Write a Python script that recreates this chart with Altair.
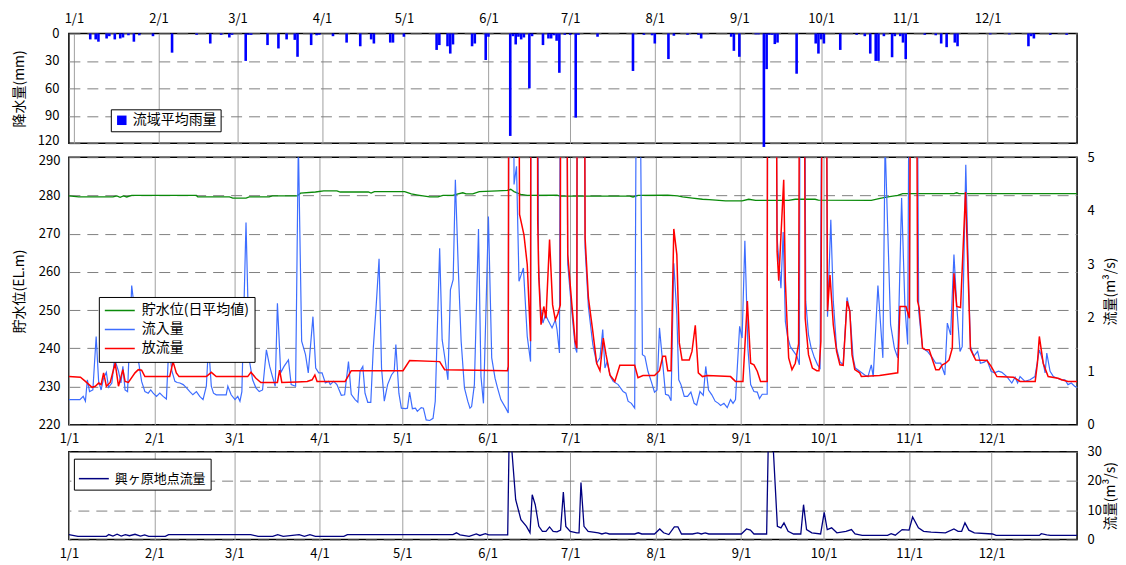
import altair as alt
import pandas as pd

FONT = "Noto Sans CJK JP"

# ---- x axis: day of year (leap year), month starts ----
month_days = [0, 31, 60, 91, 121, 152, 182, 213, 244, 274, 305, 335]
month_labels = ["1/1", "2/1", "3/1", "4/1", "5/1", "6/1", "7/1", "8/1", "9/1", "10/1", "11/1", "12/1"]

# ---- basin average rainfall (mm) ----
rain_day = [6, 8, 9, 12, 13, 15, 17, 18, 20, 22, 24, 29, 36, 45, 50, 54, 57, 58, 63, 64, 65,
            71, 75, 78, 81, 82, 87, 89, 90, 95, 100, 105, 109, 110, 116, 117, 121,
            133, 134, 137, 138, 139, 146, 147, 151, 152, 160, 161, 162, 163, 164, 165,
            167, 168, 172, 174, 175, 176, 177, 178, 180, 182, 184, 185, 192, 205, 209,
            212, 213, 218, 220, 225, 229, 230, 241, 242, 244, 250, 251, 253, 254, 255,
            256, 257, 258, 265, 272, 273, 274, 275, 281, 287, 290, 292, 294, 295, 297,
            300, 301, 303, 304, 305, 312, 316, 318, 320, 323, 324, 336, 343, 350, 351,
            352, 358, 364]
rain_mm = [6.5, 6.5, 9, 5.5, 3, 6.5, 5.5, 4.4, 2, 9, 2, 3, 21, 1.5, 11, 1.5, 4.4, 1.5, 30, 1.5, 1.5,
           12.7, 16.4, 6.5, 7, 25.5, 12.7, 2, 1.5, 3, 10, 14, 6.5, 11, 10, 10, 3.6,
           18, 12.7, 14, 22, 12, 14, 11, 29, 3.6, 112, 3, 12, 3.6, 6.5, 4.4,
           60, 3, 12.7, 5.5, 5.5, 2, 8, 43, 1.5, 1.5, 92, 1.5, 3.6, 41, 1.5,
           2, 11, 28, 2.5, 1.5, 1.5, 5.5, 3.6, 19, 25.5, 1, 1, 124, 39, 1.5,
           1.5, 11.6, 10, 44, 11, 22, 6.5, 11, 18, 1.5, 3, 22, 30, 30, 3,
           26, 3, 3, 10, 28, 1.5, 2, 11, 15, 10, 14, 1, 1, 14, 3,
           5.5, 1.5, 1.5]

# ---- reservoir water level, daily mean (EL.m) ----
level_day = [0, 3.6, 16, 17.4, 18.6, 19.8, 21, 22.8, 46.3, 46.8, 58.3, 59.5, 64.3, 65.5, 72.7,
             73.9, 82.9, 84.1, 89.5, 92.5, 97.3, 98.5, 108.7, 109.7, 110.9, 121.9, 124.3,
             126.7, 131, 134, 135.8, 139.4, 140.6, 143, 144.2, 146.6, 149, 155.6, 159.2,
             160.4, 161.6, 164, 166.4, 177.2, 178.4, 203.6, 204.8, 206.6, 217.4, 221,
             222.8, 226.4, 230, 232.4, 238.4, 244.4, 246.8, 249.3, 261.3, 263.7, 270.9,
             272.1, 291.3, 294.9, 297.9, 300.9, 302.7, 321.3, 322.3, 323.1, 366]
level_m = [279.9, 279.6, 279.6, 279.9, 279.5, 279.9, 279.6, 280.0, 280.0, 279.6, 279.6, 279.3,
           279.3, 279.6, 279.6, 279.9, 279.9, 280.6, 280.9, 281.2, 281.2, 280.9, 280.9, 280.6,
           281.0, 281.0, 280.4, 280.1, 279.6, 279.6, 280.0, 280.0, 280.3, 280.7, 280.4, 280.4,
           281.0, 281.2, 281.3, 281.6, 281.0, 280.3, 280.0, 280.1, 279.8, 279.8, 279.6, 280.0,
           280.1, 279.9, 279.6, 279.3, 279.0, 278.9, 278.6, 278.6, 279.0, 278.7, 278.7, 279.0,
           279.0, 278.8, 278.7, 279.3, 279.7, 280.0, 280.5, 280.5, 280.7, 280.5, 280.5]

# ---- inflow (m3/s): (day, value) ----
inflow = [(0, 0.47), (4, 0.47), (5.2, 0.53), (6, 0.44), (6.7, 0.84), (7.5, 0.62), (8.7, 0.65),
          (9.9, 1.65), (10.8, 0.81), (11.7, 0.65), (12.6, 0.87), (13.6, 0.98), (14.4, 0.70),
          (15.6, 0.78), (16.4, 1.15), (16.9, 1.18), (18, 1.0), (18.9, 0.78), (19.6, 1.09),
          (20.4, 0.65), (21.3, 0.62), (22.8, 2.6), (23.4, 2.34), (24.2, 1.6), (25.2, 1.21),
          (26.4, 0.81), (27.6, 0.62), (28.8, 0.59), (29.7, 0.65), (30.6, 0.59), (31.8, 0.53),
          (33, 0.59), (34.2, 0.53), (35.4, 0.48), (36.3, 1.5), (37.4, 1.0), (38.5, 0.81),
          (39.3, 0.79), (40.3, 0.78), (41.5, 0.75), (42.7, 0.69), (43.9, 0.62), (45, 0.56),
          (46.3, 0.62), (47.5, 0.53), (48.7, 0.47), (49.9, 0.72), (50.7, 1.5), (51.7, 0.72),
          (52.5, 0.59), (53.5, 0.56), (55.9, 0.56), (57.1, 0.56), (57.7, 0.72), (58.9, 0.56),
          (60.3, 0.47), (61.3, 0.53), (62.1, 0.44), (62.8, 0.62), (64.3, 3.78), (65.5, 1.21),
          (66.7, 0.84), (67.9, 0.69), (69.1, 0.62), (70.3, 0.65), (71.7, 1.40), (72.9, 1.09),
          (73.9, 0.90), (74.9, 0.72), (75.7, 2.27), (76.9, 0.97), (78.1, 1.09), (79.7, 1.21),
          (80.7, 0.75), (82.3, 0.72), (83.3, 5.3), (84.5, 1.56), (85.9, 1.31), (86.9, 0.97),
          (88.6, 2.02), (89.6, 1.06), (90.7, 0.97), (91.9, 0.97), (93.1, 0.78), (94.3, 0.81),
          (94.9, 0.75), (96.1, 0.81), (97.3, 0.75), (98.9, 0.55), (100.1, 0.56), (101.5, 1.18),
          (102.5, 0.57), (103.9, 0.47), (104.9, 0.42), (105.7, 1.0), (106.7, 1.09), (107.5, 0.59),
          (108.5, 0.42), (109.6, 0.42), (110.5, 1.43), (111.5, 2.18), (112.6, 3.10), (113.5, 1.06),
          (114.5, 0.44), (115.7, 0.75), (117.1, 0.93), (118.1, 1.0), (118.7, 1.50), (119.8, 0.59),
          (120.7, 0.31), (122.2, 0.30), (122.9, 0.31), (123.7, 0.61), (124.7, 0.30), (125.8, 0.31),
          (126.5, 0.25), (127.9, 0.32), (128.7, 0.31), (129.7, 0.09), (131, 0.08), (132.2, 0.12),
          (133, 0.44), (134.6, 3.30), (135.5, 1.59), (136.4, 1.28), (137.6, 0.84), (138.5, 2.52),
          (139.5, 2.71), (140.3, 4.58), (141.4, 2.87), (142.4, 1.56), (143.6, 0.69), (144.8, 0.44),
          (145.6, 0.31), (146.2, 0.34), (147.2, 0.75), (148.7, 3.66), (149.6, 0.90), (150.5, 0.40),
          (151.4, 2.12), (152.3, 3.89), (153.5, 1.25), (154.7, 0.87), (155.6, 0.69), (156.8, 0.47),
          (158.6, 0.31), (159.5, 0.22), (159.9, 12), (161.2, 12), (161.6, 4.49), (162.5, 4.83),
          (163.4, 2.68), (165, 2.93), (166.4, 1.65), (167.6, 1.18), (167.9, 12), (169.9, 12),
          (170.5, 3.0), (171.2, 2.2), (172.1, 1.9), (173, 2.06), (174, 1.95), (175.4, 1.81),
          (176.6, 1.96), (177.2, 1.78), (178.1, 1.34), (178.6, 12), (180.3, 12), (181.1, 3.0),
          (182.6, 2.1), (183.8, 1.45), (184.4, 1.35), (184.7, 12), (186.9, 12), (187.4, 3.3),
          (188.6, 2.2), (190.2, 1.5), (191.6, 1.15), (192.8, 1.25), (193.8, 1.78), (194.6, 1.06),
          (195.4, 1.18), (196.6, 0.90), (197.6, 0.81), (199.4, 0.75), (201.2, 0.62), (202.2, 0.59),
          (203, 0.44), (204.2, 0.40), (205.4, 0.31), (206.5, 12), (208.2, 1.31), (209.1, 1.28),
          (210.2, 1.0), (211.4, 0.81), (212.6, 0.61), (213.5, 0.65), (214.4, 1.81), (215.4, 1.25),
          (216.6, 0.57), (217.7, 0.55), (218.6, 0.45), (219.6, 3.02), (220.7, 2.06), (221.4, 0.84),
          (222.2, 0.75), (223.4, 0.53), (224.6, 0.53), (225.8, 0.61), (227, 0.40), (227.9, 0.37),
          (229.1, 0.62), (230.3, 0.55), (231.2, 1.09), (232.2, 0.65), (233.4, 0.56), (234.6, 0.44),
          (235.8, 0.40), (236.6, 0.36), (237.8, 0.40), (239, 0.32), (240.2, 0.47), (241.1, 0.40),
          (242, 0.47), (243.5, 1.84), (244.4, 1.62), (245.4, 3.44), (246.5, 1.43), (247.5, 0.75),
          (248.7, 0.62), (249.9, 0.61), (250.7, 0.49), (251.7, 0.57), (253.5, 0.57), (253.8, 12),
          (256.1, 12), (257.1, 3.49), (258.5, 2.55), (259.3, 3.6), (260.1, 1.93), (260.9, 1.65),
          (261.9, 1.46), (263.1, 1.37), (264.3, 1.28), (265.2, 1.12), (265.6, 12), (266.8, 12),
          (267.5, 2.31), (268.5, 1.68), (269.4, 1.45), (270.6, 1.26), (271.8, 1.12), (272.7, 1.06),
          (273.9, 12), (274.6, 12), (275.4, 2.02), (276.6, 3.83), (277.5, 2.31), (278.7, 1.43),
          (279.9, 1.18), (281.1, 1.12), (282.5, 2.38), (283.5, 2.12), (284.7, 1.25), (285.5, 1.06),
          (287.1, 1.0), (288.9, 0.93), (290.1, 0.90), (291.3, 1.12), (292, 0.90), (293.7, 2.60),
          (295.5, 1.25), (296.3, 5.3), (298.3, 1.87), (299.7, 1.43), (300.9, 1.25), (302.3, 4.24),
          (303.5, 2.21), (304.5, 1.50), (305.5, 12), (307.4, 12), (308.5, 2.12), (309.9, 1.43),
          (311.7, 1.37), (313.5, 1.25), (314.7, 1.15), (316.5, 1.15), (318, 0.93), (318.9, 1.90),
          (320.1, 1.68), (321.3, 3.18), (322.3, 2.24), (323.5, 1.37), (324.3, 1.46), (325.6, 4.86),
          (326.7, 2.55), (327.3, 1.46), (328.5, 1.28), (329.9, 1.37), (330.9, 1.15), (332.3, 1.17),
          (333.3, 1.21), (334.8, 1.0), (336, 0.97), (337.5, 1.0), (338.7, 0.98), (340.5, 0.90),
          (342.3, 0.78), (343.5, 0.89), (344.4, 0.78), (345.3, 0.90), (347.1, 0.81), (348.9, 0.84),
          (350.7, 0.90), (352.3, 1.40), (353.5, 1.21), (354.4, 0.97), (355, 1.34), (356.2, 1.0),
          (357.4, 0.90), (358.8, 0.87), (360.4, 0.84), (361.6, 0.84), (362.7, 0.75), (363.9, 0.78),
          (365.1, 0.72), (366, 0.70)]

# ---- outflow (m3/s): (day, value) ----
outflow = [(0, 0.90), (4.2, 0.89), (6, 0.81), (8.4, 0.70), (9.6, 0.72), (10.8, 0.78), (11.7, 0.75),
           (12.6, 0.97), (13.6, 0.72), (15, 0.79), (16.8, 1.15), (18, 0.72), (19.6, 1.03),
           (20.4, 0.81), (21.6, 0.79), (24, 0.97), (25.2, 1.03), (26.4, 1.02), (27.6, 0.90),
           (36.6, 0.90), (37.8, 1.18), (39, 0.97), (40, 0.90), (49.9, 0.90), (51.7, 0.98),
           (53.5, 0.90), (64.9, 0.90), (66.1, 0.98), (67.9, 0.87), (69.7, 0.79), (75.7, 0.79),
           (76.5, 1.02), (77.3, 0.79), (82.9, 0.80), (86.5, 0.81), (88.3, 0.84), (89.3, 0.93),
           (90.1, 0.81), (100.3, 0.81), (102.5, 1.01), (121.3, 1.01), (123.7, 1.20), (134.6, 1.18),
           (136.4, 1.03), (159.2, 1.01), (159.5, 1.09), (159.8, 12), (163.0, 12), (163.6, 3.93),
           (165.2, 3.55), (166.4, 2.99), (167.6, 1.56), (167.8, 12), (169.9, 12), (170.2, 3.8),
           (170.6, 2.74), (171.4, 1.87), (172.4, 2.21), (173.2, 1.99), (174.5, 3.46), (175.6, 2.24),
           (176.6, 1.96), (177.5, 2.07), (178.4, 2.24), (178.6, 12), (180.3, 12), (181.1, 3.18),
           (182.6, 2.24), (183.8, 1.56), (184.4, 1.43), (184.6, 12), (186.9, 12), (187.4, 3.49),
           (188.6, 2.37), (190.2, 1.74), (191.6, 1.15), (192.8, 1.01), (194, 1.62), (195, 1.31),
           (196.4, 0.93), (198.2, 0.81), (200, 1.11), (205.4, 1.11), (206.6, 0.88), (208.4, 0.92),
           (212.6, 0.92), (214.4, 1.01), (215.6, 1.28), (216.6, 1.28), (217.4, 1.01), (218.6, 1.01),
           (219.6, 3.66), (220.7, 3.18), (221.6, 1.53), (222.6, 1.21), (225.2, 1.21), (226.2, 1.37),
           (227.4, 1.86), (228.5, 0.97), (230, 0.90), (231.8, 0.92), (240.2, 0.90), (242, 0.81),
           (244.7, 0.81), (246.3, 2.31), (247.5, 1.15), (248.7, 1.12), (249.9, 1.0), (251.1, 0.81),
           (253.5, 0.81), (253.7, 12), (256.4, 12), (257.1, 3.24), (257.7, 2.69), (259.5, 4.58),
           (260.1, 2.68), (260.7, 1.93), (261.3, 1.25), (262.5, 1.03), (263.7, 1.15), (264.9, 1.51),
           (265.5, 12), (266.8, 12), (267.3, 1.99), (268.5, 1.31), (269.9, 1.06), (271.5, 1.01),
           (272.3, 1.01), (273, 1.56), (273.9, 12), (274.6, 12), (275.4, 2.12), (276.3, 2.80),
           (277.5, 1.87), (278.7, 1.37), (279.9, 1.12), (281.1, 1.11), (282.5, 2.31), (283.5, 2.12),
           (284.3, 1.31), (285.3, 1.03), (287.1, 0.97), (287.7, 0.90), (294.3, 0.92), (300.9, 0.97),
           (301.7, 2.21), (303.9, 2.21), (305.1, 1.99), (306, 12), (307.4, 12), (308.1, 2.31),
           (308.7, 2.18), (309.9, 1.43), (311.1, 1.40), (312.3, 1.40), (314.7, 1.03), (315.9, 1.03),
           (317.1, 1.12), (318.3, 1.15), (319.5, 1.21), (320.7, 1.43), (321.3, 2.83), (322.3, 2.21),
           (323.7, 2.19), (325.5, 4.35), (327.3, 1.41), (329.2, 1.21), (333.3, 1.20), (334.8, 1.09),
           (336.9, 0.90), (342.9, 0.89), (345.3, 0.81), (350.8, 0.81), (351.6, 1.15), (352.3, 1.65),
           (353.7, 1.15), (355.5, 0.90), (359.1, 0.87), (360.4, 0.84), (362.7, 0.81), (366, 0.81)]

# ---- Okegahara station flow (m3/s): (day, value) ----
okegahara = [(0, 1.7), (3.3, 1.1), (13.6, 1.1), (14.5, 1.7), (16, 1.2), (17.5, 1.8), (19, 1.2),
             (20.5, 1.7), (22, 1.3), (24, 1.8), (26, 1.2), (27.5, 1.6), (29, 1.1), (35, 1.1),
             (36.2, 1.7), (66, 1.7), (68.7, 1.1), (74, 1.1), (75.8, 1.7), (77.8, 1.1), (83.6, 1.7),
             (85.5, 1.1), (87.5, 1.7), (89.5, 1.1), (99.8, 1.1), (101.1, 1.7), (139.4, 1.7),
             (140.7, 2.3), (142, 1.6), (145.3, 1.1), (147.9, 1.9), (149.2, 1.4), (151.2, 2.0),
             (152.4, 1.6), (159.3, 1.6), (159.8, 33), (160.6, 33), (162.2, 13.6), (164.1, 6.8),
             (166.1, 4.5), (167.4, 2.3), (168.2, 15.3), (169.3, 11.9), (170.6, 4.5), (171.9, 2.8),
             (173.2, 2.8), (174.5, 4.3), (175.8, 2.8), (177.2, 2.6), (178.5, 3.2), (179.5, 16.2),
             (180.4, 4.5), (182, 2.8), (184.4, 2.3), (185.2, 2.3), (185.9, 19.5), (187, 4.5),
             (188.5, 2.8), (192.2, 2.3), (193.5, 1.9), (194.9, 2.3), (196.2, 1.9), (205.4, 1.9),
             (206.7, 2.3), (208, 1.9), (212.6, 1.9), (214.5, 3.6), (215.9, 2.3), (217.8, 1.7),
             (219.8, 4.3), (221.1, 4.3), (222.4, 1.9), (226.4, 1.9), (228.3, 2.3), (229.6, 1.9),
             (231, 2.3), (232.3, 1.9), (244.1, 1.9), (246, 3.6), (247.4, 3.2), (248.7, 1.9),
             (253.3, 1.9), (253.9, 33), (255.6, 33), (257.2, 4.5), (258.5, 4.0), (259.6, 5.7),
             (261.1, 2.8), (263.1, 1.9), (265.7, 1.9), (266.7, 11.9), (267.8, 3.4), (269.7, 2.3),
             (272.9, 1.9), (274.2, 9.3), (275.3, 3.4), (276.9, 4.0), (278.8, 2.3), (282.1, 2.8),
             (284.1, 3.4), (285.4, 1.9), (288, 1.4), (297.2, 1.4), (298.5, 2.0), (300, 1.5),
             (302.5, 3.4), (305, 3.2), (306.3, 7.7), (308.4, 4.0), (310.3, 2.8), (313, 2.5),
             (318.2, 2.3), (321.3, 3.6), (322.8, 2.8), (324.1, 2.8), (325.3, 5.7), (326.7, 3.2),
             (328.7, 2.3), (335.3, 1.9), (336.6, 1.4), (352.3, 1.4), (353, 2.0), (355, 1.6),
             (356.3, 1.4), (366, 1.4)]

mid_names = ["貯水位(日平均値)", "流入量", "放流量"]
mid_colors = ["#0a8a0a", "#3d6dff", "#ff0000"]

W = 1010
GRID_DASH = [11, 7]

label_expr = ("[" + ",".join("'%s'" % s for s in month_labels) + "][indexof(["
              + ",".join(str(d) for d in month_days) + "], datum.value)]")
xscale = alt.Scale(domain=[0, 366], nice=False, zero=False)


def xaxis(orient, pad):
    return alt.Axis(orient=orient, values=month_days, labelExpr=label_expr, grid=True,
                    gridColor="#a0a0a0", gridWidth=1, ticks=False, tickSize=0, domain=False,
                    title=None, labelPadding=pad, labelFlush=False, labelOverlap=False,
                    labelFontSize=13)


def box_legend(x, y, **kw):
    return alt.Legend(orient="none", legendX=x, legendY=y, title=None, strokeColor="black",
                      fillColor="white", cornerRadius=0, labelFont=FONT,
                      labelColor="black", **kw)


# ---------------- top: rainfall ----------------
rain_df = pd.DataFrame({"day": rain_day, "mm": rain_mm, "series": "流域平均雨量"})
top = alt.Chart(rain_df).mark_bar(size=2.6).encode(
    x=alt.X("day:Q", scale=xscale, axis=xaxis("top", 8)),
    y=alt.Y("mm:Q", scale=alt.Scale(domain=[0, 120], reverse=True, nice=False),
            axis=alt.Axis(values=[0, 30, 60, 90, 120], grid=True, gridDash=GRID_DASH,
                          gridColor="#808080", ticks=False, tickSize=0, domain=False,
                          labelPadding=10, labelFlush=False,
                          labelOffset={"condition": {"test": "datum.value == 120", "value": -3},
                                       "value": 0},
                          title="降水量(mm)",
                          titleX=-49, titleY=55, titleAngle=270, titleBaseline="middle",
                          titleAlign="center")),
    color=alt.Color("series:N", scale=alt.Scale(domain=["流域平均雨量"], range=["#0000ff"]),
                    legend=box_legend(42, 76, padding=4, symbolType="square", symbolSize=90,
                                      symbolStrokeWidth=0, labelOffset=4, labelFontSize=14)),
).properties(width=W, height=110)

# ---------------- middle: level + flows ----------------
lvl_df = pd.DataFrame({"day": level_day, "level": level_m, "series": mid_names[0]})
in_df = pd.DataFrame({"day": [p[0] for p in inflow], "q": [p[1] for p in inflow],
                      "series": mid_names[1]})
out_df = pd.DataFrame({"day": [p[0] for p in outflow], "q": [p[1] for p in outflow],
                       "series": mid_names[2]})

mid_color = alt.Color("series:N", scale=alt.Scale(domain=mid_names, range=mid_colors),
                      legend=box_legend(30, 140, padding=5, symbolType="stroke",
                                        symbolSize=900, symbolStrokeWidth=1.5,
                                        labelOffset=6, clipHeight=17, rowPadding=2,
                                        labelFontSize=14))
mid_x = alt.X("day:Q", scale=xscale, axis=xaxis("bottom", 8))

lvl = alt.Chart(lvl_df).mark_line(strokeWidth=1.3).encode(
    x=mid_x,
    y=alt.Y("level:Q", scale=alt.Scale(domain=[220, 290], nice=False, zero=False),
            axis=alt.Axis(orient="left", values=list(range(220, 291, 10)), grid=True,
                          gridDash=GRID_DASH, gridColor="#808080", ticks=False, tickSize=0,
                          domain=False, labelPadding=9, labelFlush=False,
                          labelOffset={"condition": {"test": "datum.value == 290", "value": 3},
                                       "value": 0},
                          title="貯水位(EL.m)", titleX=-49, titleY=134, titleAngle=270,
                          titleBaseline="middle", titleAlign="center")),
    color=mid_color,
)
flow_y = alt.Y("q:Q", scale=alt.Scale(domain=[0, 5], nice=False),
               axis=alt.Axis(orient="right", values=[0, 1, 2, 3, 4, 5], grid=False,
                             ticks=False, tickSize=0, domain=False, labelPadding=10,
                             labelFlush=False, title="流量(m³/s)", titleX=33, titleY=134,
                             titleAngle=270, titleBaseline="middle", titleAlign="center"))
inl = alt.Chart(in_df).mark_line(strokeWidth=1.2, clip=True).encode(x=mid_x, y=flow_y, color=mid_color)
outl = alt.Chart(out_df).mark_line(strokeWidth=1.5, clip=True).encode(x=mid_x, y=flow_y, color=mid_color)

middle = alt.layer(lvl, alt.layer(inl, outl)).resolve_scale(y="independent").properties(
    width=W, height=268)

# ---------------- bottom: Okegahara flow ----------------
ok_df = pd.DataFrame({"day": [p[0] for p in okegahara], "f": [p[1] for p in okegahara],
                      "series": "興ヶ原地点流量"})
bottom = alt.Chart(ok_df).mark_line(strokeWidth=1.3, clip=True).encode(
    x=alt.X("day:Q", scale=xscale, axis=xaxis("bottom", 8)),
    y=alt.Y("f:Q", scale=alt.Scale(domain=[0, 30], nice=False),
            axis=alt.Axis(orient="right", values=[0, 10, 20, 30], grid=True, gridDash=GRID_DASH,
                          gridColor="#808080", ticks=False, tickSize=0, domain=False,
                          labelPadding=10, labelFlush=False, title="流量(m³/s)", titleX=33,
                          titleY=44, titleAngle=270, titleBaseline="middle",
                          titleAlign="center")),
    color=alt.Color("series:N", scale=alt.Scale(domain=["興ヶ原地点流量"], range=["#000080"]),
                    legend=box_legend(5, 7, padding=4, symbolType="stroke", symbolSize=900,
                                      symbolStrokeWidth=1.5, labelOffset=5, labelFontSize=13)),
).properties(width=W, height=88)

lower = alt.vconcat(middle, bottom, spacing=27, bounds="flush").resolve_scale(
    color="independent").resolve_legend(color="independent")
chart = alt.vconcat(top, lower, spacing=14, bounds="flush").resolve_scale(
    color="independent").resolve_legend(color="independent")

chart = chart.properties(
    padding={"left": 4, "top": 3, "right": 0, "bottom": 0},
    background="white",
).configure(font=FONT).configure_view(
    stroke="black", strokeWidth=1.5
).configure_axis(
    labelFont=FONT, titleFont=FONT, labelColor="black", titleColor="black",
    labelFontSize=13, titleFontSize=14, titleFontWeight="normal",
).configure_legend(labelFont=FONT)

chart.save("out.html", embed_options={"renderer": "svg", "actions": False})
